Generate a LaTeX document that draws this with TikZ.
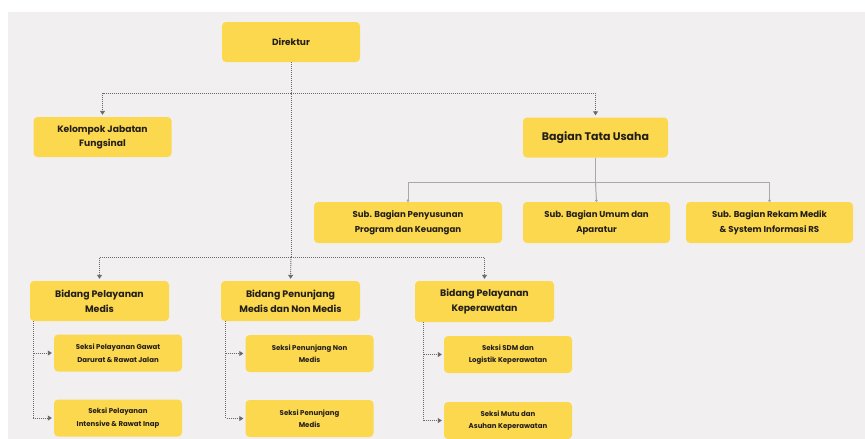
\documentclass[tikz,border=0pt]{standalone}
\usepackage{fontspec}
\setmainfont{Poppins}
\usetikzlibrary{arrows.meta}
\definecolor{bg}{HTML}{F1EFEF}
\definecolor{boxy}{HTML}{FCD84E}
\definecolor{txt}{HTML}{221E1A}
\definecolor{ln}{HTML}{6A6A6A}
\definecolor{sln}{HTML}{A8A8A8}
\tikzset{
  box/.style={fill=boxy, rounded corners=4pt, align=center, text=txt, font=\bfseries, inner sep=1pt},
  dl/.style={draw=ln, line width=0.9pt, dash pattern=on 1pt off 1pt},
  sl/.style={draw=sln, line width=1pt},
  tip/.style={-{Triangle[width=5pt,length=4pt]}, shorten >=2pt},
  stip/.style={-{Circle[length=2.5pt]}},
}
\begin{document}
\begin{tikzpicture}[x=1pt,y=-1pt]
\useasboundingbox (0,0) rectangle (865,439);
\fill[white] (0,0) rectangle (865,439);
\fill[bg] (8,12) rectangle (865,439);
% top level
\node[box, minimum width=138pt, minimum height=40pt, font=\bfseries\fontsize{9}{12}\selectfont] (dir) at (291,42) {Direktur};
\node[box, minimum width=138pt, minimum height=40pt, font=\bfseries\fontsize{9.2}{14}\selectfont] (kel) at (102.5,137) {Kelompok Jabatan\\Fungsinal};
\node[box, minimum width=145pt, minimum height=40pt, font=\bfseries\fontsize{11}{14}\selectfont] (btu) at (595.5,137.5) {Bagian Tata Usaha};
% sub bagian
\node[box, minimum width=188pt, minimum height=41pt, font=\bfseries\fontsize{8.6}{15}\selectfont] (sb1) at (408,222.5) {Sub. Bagian Penyusunan\\Program dan Keuangan};
\node[box, minimum width=147pt, minimum height=41pt, font=\bfseries\fontsize{8.6}{15}\selectfont] (sb2) at (596.5,222.5) {Sub. Bagian Umum dan\\Aparatur};
\node[box, minimum width=167pt, minimum height=41pt, font=\bfseries\fontsize{8.6}{15}\selectfont] (sb3) at (769.5,222.5) {Sub. Bagian Rekam Medik\\\& System Informasi RS};
% bidang
\node[box, minimum width=139pt, minimum height=40pt, font=\bfseries\fontsize{9.4}{15}\selectfont] (bp1) at (99.5,301) {Bidang Pelayanan\\Medis};
\node[box, minimum width=139pt, minimum height=40pt, font=\bfseries\fontsize{9.4}{15}\selectfont] (bp2) at (290.5,301) {Bidang Penunjang\\Medis dan Non Medis};
\node[box, minimum width=139pt, minimum height=41pt, font=\bfseries\fontsize{9.4}{15}\selectfont] (bp3) at (484.5,301.5) {Bidang Pelayanan\\Keperawatan};
% seksi
\tikzset{sk/.style={box, minimum width=128pt, minimum height=37pt, font=\bfseries\fontsize{7}{12.5}\selectfont}}
\node[sk] (s11) at (118,353) {Seksi Pelayanan Gawat\\Darurat \& Rawat Jalan};
\node[sk] (s12) at (118,418) {Seksi Pelayanan\\Intensive \& Rawat Inap};
\node[sk] (s21) at (309.5,353.5) {Seksi Penunjang Non\\Medis};
\node[sk] (s22) at (309.5,418.5) {Seksi Penunjang\\Medis};
\node[sk] (s31) at (508,354.5) {Seksi SDM dan\\Logistik Keperawatan};
\node[sk] (s32) at (508,420.5) {Seksi Mutu dan\\Asuhan Keperawatan};
% connectors from Direktur
\coordinate (j1) at (291,93);
\coordinate (j2) at (291,257);
\draw[dl] (dir.south) -- (j2);
\draw[dl,tip] (j1) -| (kel.north);
\draw[dl,tip] (j1) -| (btu.north);
\draw[dl,tip] (j2) -| (bp1.north);
\draw[dl,tip] (j2) -- (bp2.north);
\draw[dl,tip] (j2) -| (bp3.north);
% tata usaha
\coordinate (j3) at (595.5,182);
\draw[sl] (btu.south) -- (j3);
\draw[sl,stip] (j3) -| (sb1.north);
\draw[sl,stip] (j3) -- (sb2.north);
\draw[sl,stip] (j3) -| (sb3.north);
% seksi connectors
\draw[dl,tip] ([xshift=3.5pt]bp1.south west) |- (s11.west);
\draw[dl,tip] ([xshift=3.5pt]bp1.south west) |- (s12.west);
\draw[dl,tip] ([xshift=5pt]bp2.south west) |- (s21.west);
\draw[dl,tip] ([xshift=5pt]bp2.south west) |- (s22.west);
\draw[dl,tip] ([xshift=9pt]bp3.south west) |- (s31.west);
\draw[dl,tip] ([xshift=9pt]bp3.south west) |- (s32.west);
\end{tikzpicture}
\end{document}
